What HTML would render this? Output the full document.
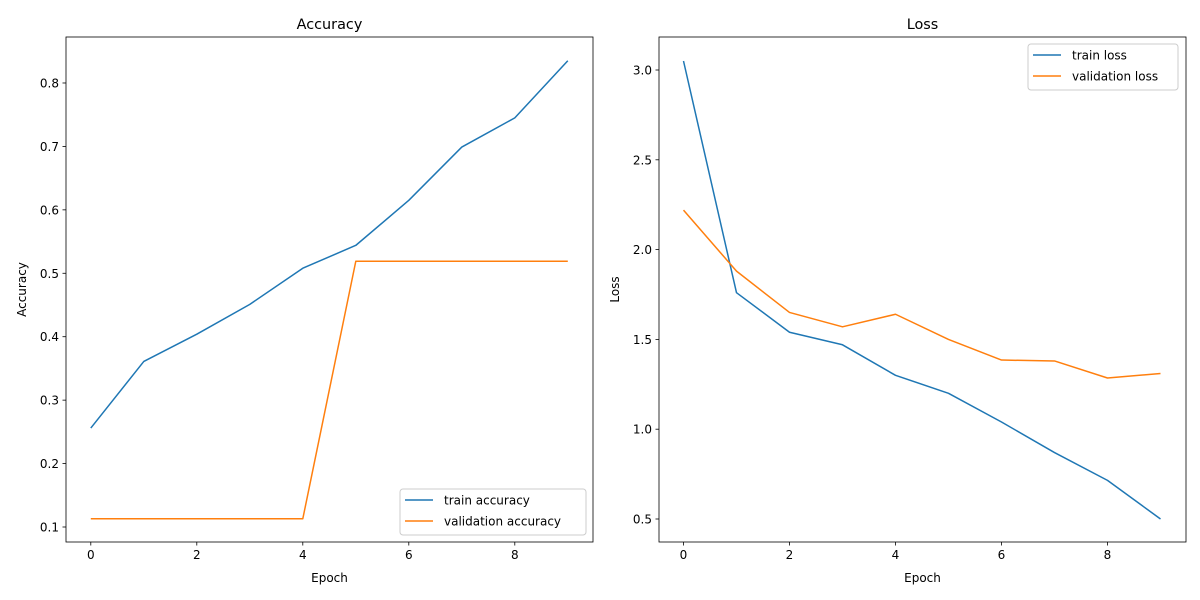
<!DOCTYPE html>
<html><head><meta charset="utf-8"><style>
body{margin:0;background:#fff;}
svg{display:block;font-family:"DejaVu Sans","Liberation Sans",sans-serif;}
</style></head><body>
<svg id="fig" width="1200" height="600"></svg>
<script>
const epochs=[0,1,2,3,4,5,6,7,8,9];
const trainAcc=[0.256,0.361,0.404,0.451,0.508,0.544,0.615,0.699,0.745,0.835];
const valAcc=[0.113,0.113,0.113,0.113,0.113,0.519,0.519,0.519,0.519,0.519];
const trainLoss=[3.05,1.76,1.54,1.47,1.30,1.20,1.04,0.87,0.715,0.50];
const valLoss=[2.22,1.88,1.65,1.57,1.64,1.50,1.385,1.38,1.285,1.31];
const xTicks=[0,2,4,6,8];
const accTicks=[0.1,0.2,0.3,0.4,0.5,0.6,0.7,0.8];
const lossTicks=[0.5,1.0,1.5,2.0,2.5,3.0];

const NS="http://www.w3.org/2000/svg";
const svg=document.getElementById('fig');
function mk(tag,attrs,parent,text){const e=document.createElementNS(NS,tag);for(const k in attrs)e.setAttribute(k,attrs[k]);if(text!==undefined)e.textContent=text;(parent||svg).appendChild(e);return e;}

function panel(opt){
  const L=opt.left,R=opt.left+527,T=37,B=542;
  const xs=v=>opt.x0+v*53;
  const ys=v=>opt.y0+(v-opt.yRef)*opt.yScale;
  const g=mk('g',{});
  
  
  // ticks
  xTicks.forEach(t=>{
    const x=xs(t);
    const tk=mk('line',{x1:x,x2:x,y1:B,y2:B+3.5,stroke:'#000','stroke-width':0.8},g);
    
    
    const lb=mk('text',{x:x,y:B+17,'font-size':12,'text-anchor':'middle'},g,String(t));
    
    
  });
  opt.yTicks.forEach(t=>{
    const y=ys(t);
    const tk=mk('line',{x1:L-3.5,x2:L,y1:y,y2:y,stroke:'#000','stroke-width':0.8},g);
    
    
    const lb=mk('text',{x:L-7,y:y+4.5,'font-size':12,'text-anchor':'end'},g,t.toFixed(1));
    
    
  });
  // series
  opt.series.forEach(s=>{
    const p=mk('polyline',{points:s.data.map((v,i)=>xs(epochs[i])+','+ys(v)).join(' '),fill:'none',stroke:s.color,'stroke-width':1.5,'stroke-linejoin':'round'},g);
    
    
  });
  const fr=mk('rect',{x:L,y:T,width:527,height:505,fill:'none',stroke:'#000','stroke-width':0.8},g);
  
  
  const ti=mk('text',{x:(L+R)/2,y:29,'font-size':14.4,'text-anchor':'middle'},g,opt.title);
  
  
  const xl=mk('text',{x:(L+R)/2,y:582,'font-size':12,'text-anchor':'middle'},g,'Epoch');
  
  
  const yl=mk('text',{x:0,y:0,'font-size':12,'text-anchor':'middle',transform:`translate(${opt.ylabX},${(T+B)/2}) rotate(-90)`},g,opt.ylabel);
  
  
  // legend
  const lg=mk('g',{},g);
  
  
  mk('rect',{x:opt.lg.x,y:opt.lg.y,width:opt.lg.w,height:46,rx:3,fill:'#fff','fill-opacity':0.8,stroke:'#ccc','stroke-width':1},lg);
  opt.series.forEach((s,i)=>{
    const y=opt.lg.y+11+i*21;
    const ln=mk('line',{x1:opt.lg.x+5,x2:opt.lg.x+33,y1:y,y2:y,stroke:s.color,'stroke-width':1.5},lg);
    
    
    const tx=mk('text',{x:opt.lg.x+44,y:y+4.5,'font-size':12},lg,s.label);
    
    
  });
}
panel({name:'accuracy-chart',left:66,x0:90.8,y0:527,yRef:0.1,yScale:-634.3,yTicks:accTicks,title:'Accuracy',ylabel:'Accuracy',ylabX:26,
  lg:{x:400,y:489,w:186},
  series:[{name:'train-accuracy-line',label:'train accuracy',color:'#1f77b4',data:trainAcc},{name:'validation-accuracy-line',label:'validation accuracy',color:'#ff7f0e',data:valAcc}]});
panel({name:'loss-chart',left:659,x0:683.5,y0:519,yRef:0.5,yScale:-179.6,yTicks:lossTicks,title:'Loss',ylabel:'Loss',ylabX:619,
  lg:{x:1028,y:44,w:150},
  series:[{name:'train-loss-line',label:'train loss',color:'#1f77b4',data:trainLoss},{name:'validation-loss-line',label:'validation loss',color:'#ff7f0e',data:valLoss}]});
</script>
</body></html>
